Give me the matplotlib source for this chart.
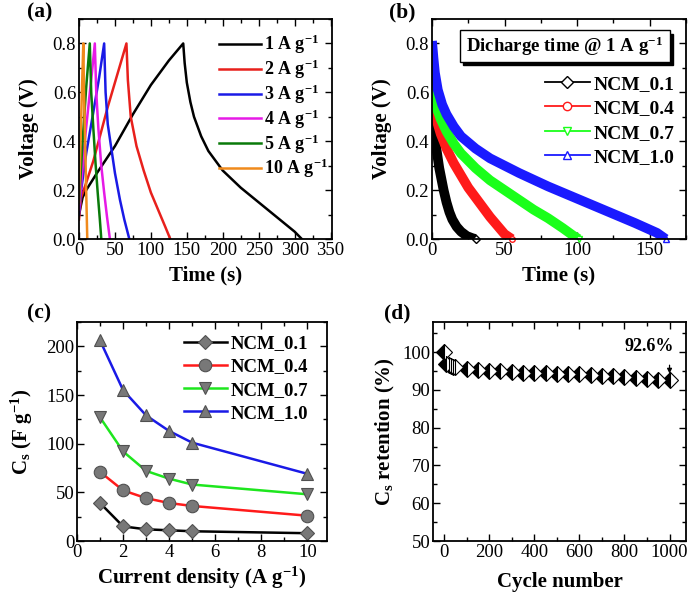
import matplotlib
matplotlib.use("Agg")
import matplotlib.pyplot as plt
from matplotlib.ticker import MultipleLocator, FormatStrFormatter
from matplotlib.lines import Line2D
from matplotlib.patches import Rectangle

plt.rcParams['font.family'] = ['Liberation Serif', 'DejaVu Serif']
plt.rcParams['mathtext.fontset'] = 'custom'
plt.rcParams['mathtext.rm'] = 'Liberation Serif'
plt.rcParams['mathtext.bf'] = 'Liberation Serif:bold'
plt.rcParams['mathtext.default'] = 'regular'

# ---------------- data ----------------
# (a) galvanostatic charge-discharge
gcd_labels = ['1 A g$^{-1}$', '2 A g$^{-1}$', '3 A g$^{-1}$', '4 A g$^{-1}$', '5 A g$^{-1}$', '10 A g$^{-1}$']
gcd_colors = ['black', '#e8201c', '#1a1ae6', '#e61ae6', '#0a7a0a', '#f08a1c']
t_1 = [0, 5, 10, 25, 50, 75, 100, 125, 145, 147, 150, 155, 160, 170, 180, 200, 225, 250, 275, 300, 310]
v_1 = [0.10, 0.17, 0.20, 0.27, 0.38, 0.51, 0.63, 0.73, 0.80, 0.72, 0.64, 0.56, 0.50, 0.42, 0.36, 0.28, 0.21, 0.15, 0.09, 0.03, 0.0]
t_2 = [0, 3, 10, 20, 30, 40, 50, 60, 66, 68, 72, 80, 90, 100, 110, 120, 127]
v_2 = [0.08, 0.17, 0.23, 0.32, 0.43, 0.54, 0.64, 0.74, 0.80, 0.65, 0.50, 0.38, 0.28, 0.19, 0.12, 0.05, 0.0]
t_3 = [0, 3, 10, 20, 28, 35, 37, 40, 45, 50, 57, 63, 70]
v_3 = [0.10, 0.20, 0.35, 0.52, 0.66, 0.80, 0.60, 0.47, 0.37, 0.27, 0.16, 0.08, 0.0]
t_4 = [0, 3, 8, 14, 18, 22, 24, 27, 31, 35, 39, 43]
v_4 = [0.12, 0.22, 0.40, 0.57, 0.68, 0.80, 0.60, 0.45, 0.30, 0.19, 0.09, 0.0]
t_5 = [0, 2, 5, 10, 15, 17, 20, 23, 26, 29, 31]
v_5 = [0.15, 0.25, 0.40, 0.62, 0.80, 0.60, 0.45, 0.31, 0.19, 0.08, 0.0]
t_10 = [0, 2, 4, 6, 7, 8.5, 10, 11.5]
v_10 = [0.15, 0.38, 0.60, 0.80, 0.60, 0.40, 0.20, 0.0]
gcd_t = [t_1, t_2, t_3, t_4, t_5, t_10]
gcd_v = [v_1, v_2, v_3, v_4, v_5, v_10]

# (b) discharge curves @ 1 A/g
ncm_labels = ['NCM_0.1', 'NCM_0.4', 'NCM_0.7', 'NCM_1.0']
ncm_colors = ['black', '#ff1a1a', '#1aff1a', '#1a1aff']
ncm_markers = ['D', 'o', 'v', '^']
td_01 = [0, 1, 2, 3, 4, 5, 6, 7, 8, 10, 12, 14, 17, 20, 24, 28, 30]
vd_01 = [0.55, 0.47, 0.41, 0.37, 0.33, 0.29, 0.26, 0.23, 0.20, 0.15, 0.11, 0.08, 0.05, 0.03, 0.012, 0.003, 0.0]
td_04 = [0, 1, 3, 6, 10, 15, 20, 25, 30, 35, 40, 45, 50, 55]
vd_04 = [0.62, 0.56, 0.49, 0.43, 0.37, 0.31, 0.26, 0.21, 0.17, 0.13, 0.09, 0.055, 0.02, 0.0]
td_07 = [0, 1, 3, 6, 10, 15, 20, 30, 40, 50, 60, 70, 80, 90, 97, 101]
vd_07 = [0.65, 0.60, 0.54, 0.49, 0.44, 0.39, 0.35, 0.29, 0.24, 0.20, 0.16, 0.12, 0.085, 0.045, 0.015, 0.0]
td_10 = [0, 1, 2, 4, 7, 10, 15, 20, 30, 40, 50, 60, 80, 100, 120, 140, 155, 161]
vd_10 = [0.81, 0.74, 0.68, 0.61, 0.55, 0.51, 0.46, 0.42, 0.37, 0.33, 0.30, 0.27, 0.215, 0.165, 0.115, 0.065, 0.025, 0.0]
dis_t = [td_01, td_04, td_07, td_10]
dis_v = [vd_01, vd_04, vd_07, vd_10]

# (c) specific capacitance vs current density
current_density = [1, 2, 3, 4, 5, 10]
cs_01 = [39, 15, 12, 11, 10, 8]
cs_04 = [71, 52, 44, 39, 36, 26]
cs_07 = [127, 92, 72, 64, 58, 48]
cs_10 = [206, 155, 129, 113, 101, 69]
cs_all = [cs_01, cs_04, cs_07, cs_10]
cs_colors = ['black', '#ff1a1a', '#1ee61e', '#1a1ae6']

# (d) cycling stability
cycles = [0, 10, 20, 30, 40, 50, 100, 150, 200, 250, 300, 350, 400, 450, 500,
          550, 600, 650, 700, 750, 800, 850, 900, 950, 1000]
retention = [100, 97.0, 96.7, 96.4, 96.2, 96.0, 95.6, 95.2, 95.0, 94.9, 94.8, 94.6, 94.5, 94.4, 94.3,
             94.2, 94.1, 94.0, 93.7, 93.6, 93.4, 93.2, 93.0, 92.7, 92.6]

# ---------------- figure ----------------
W, H = 691, 599
fig = plt.figure(figsize=(W / 100, H / 100), dpi=100)

def box(l, r, t, b):
    return [l / W, 1 - b / H, (r - l) / W, (b - t) / H]

ax_a = fig.add_axes(box(79, 332, 19, 239))
ax_b = fig.add_axes(box(432, 686, 19, 239))
ax_c = fig.add_axes(box(77, 327, 322, 541))
ax_d = fig.add_axes(box(433, 686, 322, 541))

TICK_FS = 13.5
LABEL_FS = 15

def style(ax, xmaj, xmin, ymaj, ymin):
    ax.xaxis.set_major_locator(MultipleLocator(xmaj))
    ax.xaxis.set_minor_locator(MultipleLocator(xmin))
    ax.yaxis.set_major_locator(MultipleLocator(ymaj))
    ax.yaxis.set_minor_locator(MultipleLocator(ymin))
    ax.tick_params(which='both', direction='in', top=True, right=True, width=1.0)
    ax.tick_params(which='major', length=5, labelsize=TICK_FS, pad=2)
    ax.tick_params(which='minor', length=2.8)
    for s in ax.spines.values():
        s.set_linewidth(1.3)

def leg_kw(size):
    return dict(frameon=False, prop={'weight': 'bold', 'size': size},
                handlelength=2.3, handletextpad=0.2, borderaxespad=0.0, loc='upper right')

# (a)
for t, v, c, lab in zip(gcd_t, gcd_v, gcd_colors, gcd_labels):
    ax_a.plot(t, v, color=c, lw=1.8, label=lab)
ax_a.set_xlim(0, 352)
ax_a.set_ylim(0, 0.9)
style(ax_a, 50, 25, 0.2, 0.1)
ax_a.yaxis.set_major_formatter(FormatStrFormatter('%.1f'))
ax_a.set_xlabel('Time (s)', fontsize=LABEL_FS, fontweight='bold', labelpad=5)
ax_a.set_ylabel('Voltage (V)', fontsize=LABEL_FS, fontweight='bold', labelpad=10)
ax_a.legend(labelspacing=0.08, bbox_to_anchor=(1.015, 0.97), **leg_kw(13))

# (b)
for t, v, c in zip(dis_t, dis_v, ncm_colors):
    ax_b.plot(t, v, color=c, lw=7, solid_capstyle='butt')
for t, v, c, m in zip(dis_t, dis_v, ncm_colors, ncm_markers):
    ax_b.plot([t[-1]], [v[-1]], ls='none', marker=m, mfc='white', mec=c, ms=4, clip_on=False)
ax_b.set_xlim(0, 175)
ax_b.set_ylim(0, 0.9)
style(ax_b, 50, 25, 0.2, 0.1)
ax_b.yaxis.set_major_formatter(FormatStrFormatter('%.1f'))
ax_b.set_xlabel('Time (s)', fontsize=LABEL_FS, fontweight='bold', labelpad=5)
ax_b.set_ylabel('Voltage (V)', fontsize=LABEL_FS, fontweight='bold', labelpad=10)
handles_b = [Line2D([], [], color=c, lw=1.3, marker=m, mfc='white', mec=c, ms=6)
             for c, m in zip(ncm_colors, ncm_markers)]
ax_b.legend(handles_b, ncm_labels, labelspacing=0.35, bbox_to_anchor=(0.985, 0.78), **leg_kw(14))
# text box with drop shadow
bx0, bx1, by0, by1 = 0.110, 0.937, 0.805, 0.950
sdx, sdy = 3.5 / 254, 3.5 / 220
ax_b.add_patch(Rectangle((bx0 + sdx, by0 - sdy), bx1 - bx0, by1 - by0, transform=ax_b.transAxes,
                         fc='black', ec='black', zorder=5))
ax_b.add_patch(Rectangle((bx0, by0), bx1 - bx0, by1 - by0, transform=ax_b.transAxes,
                         fc='white', ec='black', lw=1.0, zorder=6))
ax_b.text((bx0 + bx1) / 2, (by0 + by1) / 2, 'Dicharge time @ 1 A g$^{-1}$', transform=ax_b.transAxes,
          ha='center', va='center', fontsize=13.5, fontweight='bold', zorder=7)

# (c)
for y, c, m, lab in zip(cs_all, cs_colors, ncm_markers, ncm_labels):
    ax_c.plot(current_density, y, color=c, lw=1.8, marker=m, ms=9 if m != 'D' else 7.5,
              mfc='#787878', mec='#505050', mew=0.8, label=lab)
ax_c.set_xlim(0, 10.85)
ax_c.set_ylim(0, 225)
style(ax_c, 2, 1, 50, 25)
ax_c.set_xlabel('Current density (A g$^{-1}$)', fontsize=LABEL_FS, fontweight='bold', labelpad=3)
ax_c.set_ylabel('C$_s$ (F g$^{-1}$)', fontsize=LABEL_FS, fontweight='bold', labelpad=8)
ax_c.legend(labelspacing=0.33, bbox_to_anchor=(0.955, 0.975), **leg_kw(13.5))

# (d)
ax_d.plot(cycles, retention, ls='none', marker='D', ms=8, fillstyle='left',
          mfc='black', mfcalt='white', mec='black', mew=0.8, clip_on=False)
ax_d.set_xlim(-49, 1073)
ax_d.set_ylim(50, 108)
style(ax_d, 200, 100, 10, 5)
ax_d.set_xlabel('Cycle number', fontsize=LABEL_FS, fontweight='bold', labelpad=8)
ax_d.set_ylabel('C$_s$ retention (%)', fontsize=LABEL_FS, fontweight='bold', labelpad=4)
ax_d.annotate('', xy=(1000, 93.6), xytext=(1000, 97.3),
              arrowprops=dict(arrowstyle='-|>', color='black', lw=0.9, mutation_scale=7))
ax_d.text(1018, 101.5, '92.6%', ha='right', va='center', fontsize=13, fontweight='bold')

# panel labels
for lab, x, y in [('(a)', 27, 12), ('(b)', 389, 12), ('(c)', 27, 313), ('(d)', 384, 313)]:
    fig.text(x / W, 1 - y / H, lab, fontsize=15.5, fontweight='bold', ha='left', va='center')

fig.savefig('out.png', dpi=100)
